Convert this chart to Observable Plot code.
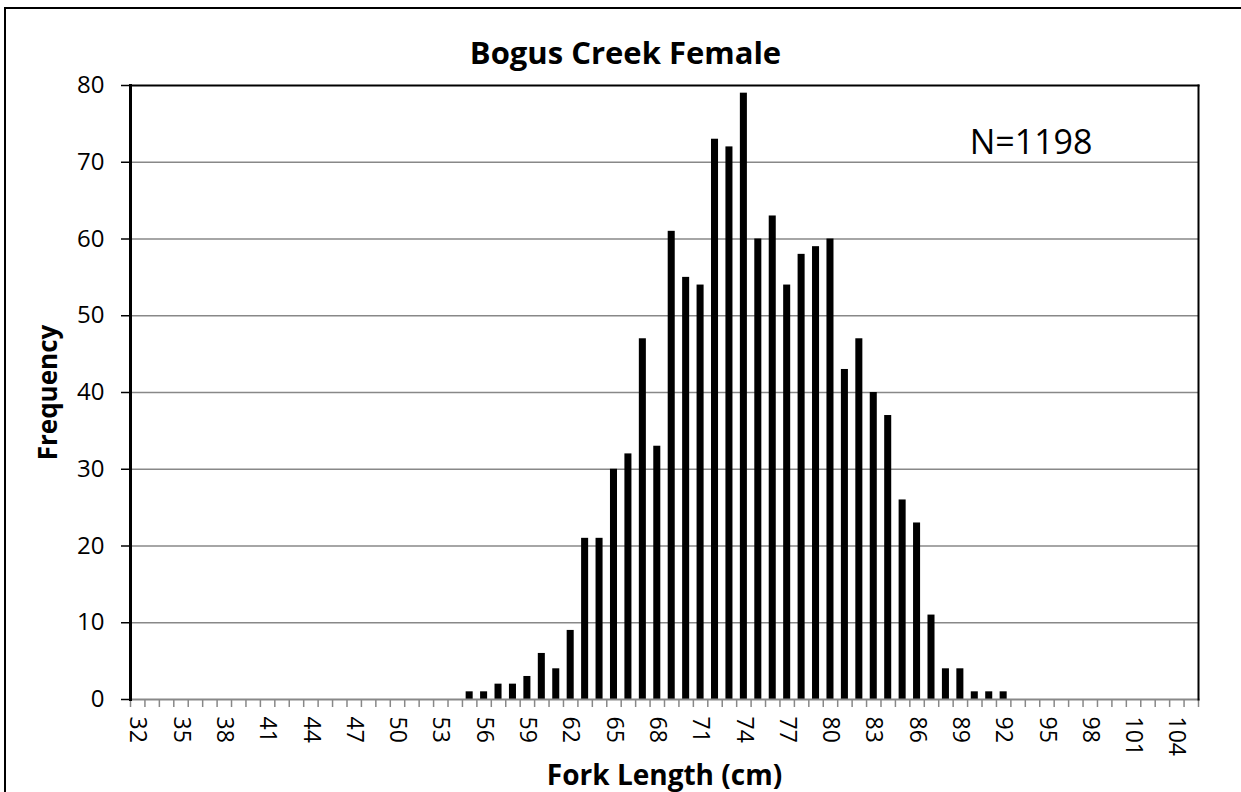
<!DOCTYPE html>
<html>
<head>
<meta charset="utf-8">
<script src="https://cdn.jsdelivr.net/npm/d3@7"></script>
<script src="https://cdn.jsdelivr.net/npm/@observablehq/plot@0.6"></script>
<style>
  html, body { margin: 0; padding: 0; background: #fff; overflow: hidden; }
  #wrap { position: relative; width: 1241px; height: 792px; }
  #border { position: absolute; left: 4px; top: 7px; width: 1400px; height: 900px; border: 2px solid #000; box-sizing: border-box; }
  #chart { position: absolute; left: 0; top: 0; }
  svg { font-family: "Open Sans", sans-serif; }
</style>
</head>
<body>
<div id="wrap">
  <div id="border"></div>
  <div id="chart"></div>
</div>
<script>
// Fork length bins (cm) and frequencies
const lengths = [55, 56, 57, 58, 59, 60, 61, 62, 63, 64, 65, 66, 67, 68, 69, 70, 71, 72, 73, 74,
                 75, 76, 77, 78, 79, 80, 81, 82, 83, 84, 85, 86, 87, 88, 89, 90, 91, 92];
const counts  = [1, 1, 2, 2, 3, 6, 4, 9, 21, 21, 30, 32, 47, 33, 61, 55, 54, 73, 72, 79,
                 60, 63, 54, 58, 59, 60, 43, 47, 40, 37, 26, 23, 11, 4, 4, 1, 1, 1];
const xDomain = [32, 106];                 // categories 32..105
const xTickLabels = d3.range(32, 105, 3);  // 32, 35, ..., 104
const yTicks = [0, 10, 20, 30, 40, 50, 60, 70, 80];
const gridTicks = [10, 20, 30, 40, 50, 60, 70];
const title = "Bogus Creek Female";
const nLabel = "N=1198";
const xTitle = "Fork Length (cm)";
const yTitle = "Frequency";

const data = lengths.map((l, i) => ({len: l, count: counts[i]}));
const boundaries = d3.range(xDomain[0], xDomain[1] + 1);

const chart = Plot.plot({
  width: 1241,
  height: 792,
  marginLeft: 130,
  marginRight: 43,
  marginTop: 85,
  marginBottom: 93,
  style: {fontFamily: "'Open Sans', sans-serif", background: "transparent"},
  x: {domain: xDomain, axis: null, label: null},
  y: {domain: [0, 80], axis: null, label: null},
  marks: [
    Plot.gridY(gridTicks, {stroke: "#888", strokeOpacity: 1, strokeWidth: 1.5}),
    Plot.rectY(data, {x: "len", y: "count", interval: 1, fill: "#000", insetLeft: 3.7, insetRight: 3.7}),
    Plot.axisX(boundaries, {tickSize: 8, tickFormat: () => "", label: null, stroke: "#888", strokeWidth: 1.5}),
    Plot.frame({anchor: "bottom", stroke: "#888", strokeWidth: 2}),
    Plot.frame({anchor: "top", stroke: "#000", strokeWidth: 2}),
    Plot.frame({anchor: "right", stroke: "#000", strokeWidth: 2}),
    Plot.frame({anchor: "left", stroke: "#000", strokeWidth: 3}),
    Plot.axisY(yTicks, {tickSize: 9, tickPadding: 17, fontSize: 24, label: null, stroke: "#000", strokeWidth: 1.5, fill: "#000"}),
    Plot.text(xTickLabels, {x: d => d + 0.5, frameAnchor: "bottom", rotate: 90, textAnchor: "start", lineAnchor: "middle", dy: 17, fontSize: 23, fill: "#000"}),
    Plot.text([title], {frameAnchor: "top", dx: -39, dy: -31, textAnchor: "middle", lineAnchor: "middle", fontSize: 31, fontWeight: "bold", fill: "#000"}),
    Plot.text([nLabel], {frameAnchor: "top-right", dx: -106, dy: 58, textAnchor: "end", lineAnchor: "middle", fontSize: 34, fill: "#000"}),
    Plot.text([xTitle], {frameAnchor: "bottom", dy: 77, textAnchor: "middle", lineAnchor: "middle", fontSize: 28, fontWeight: "bold", fill: "#000"}),
    Plot.text([yTitle], {frameAnchor: "left", dx: -82, rotate: -90, textAnchor: "middle", lineAnchor: "middle", fontSize: 26, fontWeight: "bold", fill: "#000"})
  ]
});
document.getElementById("chart").appendChild(chart);
</script>
</body>
</html>
